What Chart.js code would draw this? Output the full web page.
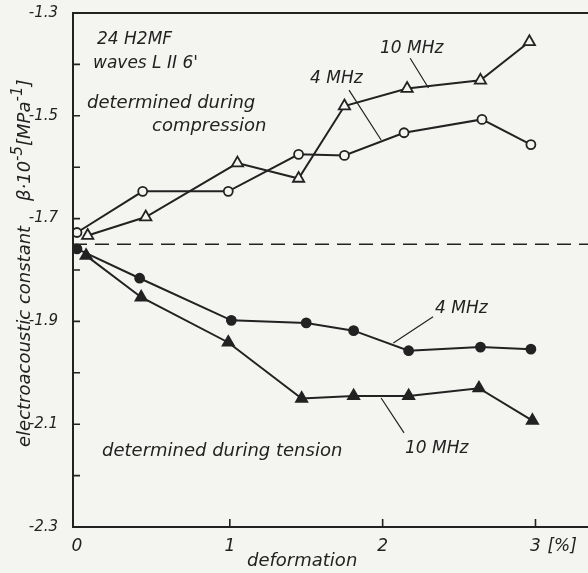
<!DOCTYPE html>
<html>
<head>
<meta charset="utf-8">
<script src="https://cdn.jsdelivr.net/npm/chart.js@4.4.1/dist/chart.umd.min.js"></script>
<style>
html, body { margin: 0; padding: 0; background: #f4f4f1; overflow: hidden; }
#wrap { position: relative; width: 604px; height: 573px; }
</style>
</head>
<body>
<div id="wrap"><canvas id="chart"></canvas></div>
<script>
// axis ticks
var xTicks = [0, 1, 2, 3];
var yTicks = [-2.3, -2.2, -2.1, -2.0, -1.9, -1.8, -1.7, -1.6, -1.5, -1.4, -1.3];
var yLabelled = [-2.3, -2.1, -1.9, -1.7, -1.5, -1.3];
var refLevel = -1.75;

// determined during compression (open markers)
var comp4x = [0, 0.43, 0.99, 1.45, 1.75, 2.14, 2.65, 2.97];
var comp4y = [-1.727, -1.647, -1.647, -1.575, -1.577, -1.533, -1.507, -1.556];
var comp10x = [0.07, 0.45, 1.05, 1.45, 1.75, 2.16, 2.64, 2.96];
var comp10y = [-1.733, -1.697, -1.592, -1.622, -1.481, -1.447, -1.431, -1.356];

// determined during tension (filled markers)
var tens4x = [0, 0.41, 1.01, 1.50, 1.81, 2.17, 2.64, 2.97];
var tens4y = [-1.759, -1.816, -1.898, -1.903, -1.918, -1.957, -1.950, -1.954];
var tens10x = [0.06, 0.42, 0.99, 1.47, 1.81, 2.17, 2.63, 2.98];
var tens10y = [-1.772, -1.853, -1.941, -2.050, -2.045, -2.045, -2.030, -2.093];

var X_MIN = -0.026, X_MAX = 3.394;
var ink = '#222';
var font = '"DejaVu Sans", sans-serif';

function pts(xs, ys) { return xs.map((x, i) => ({ x: x, y: ys[i] })); }

function series(xs, ys, shape, filled) {
    return {
        data: pts(xs, ys), borderColor: ink, borderWidth: 2,
        pointStyle: shape, pointRadius: shape === 'triangle' ? 6.5 : 4.5,
        pointBackgroundColor: filled ? ink : '#f4f4f1', pointBorderColor: ink, pointBorderWidth: 1.8,
        tension: 0, fill: false
    };
}

// no extra room for the end labels, layout padding decides
function noPad(s) { s.paddingTop = 0; s.paddingBottom = 0; s.paddingLeft = 0; s.paddingRight = 0; }

// frame, inward ticks and texts
var decor = {
    id: 'decor',
    afterDraw: function (chart) {
        var c = chart.ctx, a = chart.chartArea, xs = chart.scales.x, ys = chart.scales.y;
        c.save();
        c.strokeStyle = ink; c.lineWidth = 2;
        c.strokeRect(a.left, a.top, a.right - a.left, a.bottom - a.top);
        c.lineWidth = 1.6;
        c.beginPath();
        yTicks.forEach(v => { var p = ys.getPixelForValue(v); c.moveTo(a.left, p); c.lineTo(a.left + 7, p); });
        xTicks.slice(1).forEach(v => { var p = xs.getPixelForValue(v); c.moveTo(p, a.bottom); c.lineTo(p, a.bottom - 8); });
        c.stroke();

        // leader lines, in data units
        var leaders = [[2.18, -1.388, 2.30, -1.446], [1.78, -1.450, 1.99, -1.547],
                       [2.33, -1.891, 2.07, -1.942], [2.14, -2.117, 1.99, -2.049]];
        c.lineWidth = 1.2;
        c.beginPath();
        leaders.forEach(l => {
            c.moveTo(xs.getPixelForValue(l[0]), ys.getPixelForValue(l[1]));
            c.lineTo(xs.getPixelForValue(l[2]), ys.getPixelForValue(l[3]));
        });
        c.stroke();

        c.fillStyle = ink;
        c.textBaseline = 'alphabetic';
        c.textAlign = 'left';
        c.font = 'italic 17px ' + font;
        c.fillText('24 H2MF', 97, 44);
        c.fillText("waves L II 6'", 93, 68);
        c.fillText('10 MHz', 380, 53);
        c.fillText('4 MHz', 310, 83);
        c.fillText('4 MHz', 435, 313);
        c.fillText('10 MHz', 405, 453);
        c.fillText('[%]', xs.getPixelForValue(3) + 12, 551);
        c.font = 'italic 18px ' + font;
        c.fillText('determined during', 87, 108);
        c.fillText('compression', 152, 131);
        c.fillText('determined during tension', 102, 456);
        c.fillText('deformation', 247, 566);

        // rotated axis title with superscripts
        c.translate(30, 0);
        c.rotate(-Math.PI / 2);
        var pos = -447;
        function put(t, size, rise) {
            c.font = 'italic ' + size + 'px ' + font;
            c.fillText(t, pos, -rise);
            pos += c.measureText(t).width;
        }
        put('electroacoustic constant', 18, 0);
        pos = -201;
        put('\u03B2\u00B710', 18, 0);
        put('-5', 15, 8);
        put('[MPa', 18, 0);
        put('-1', 15, 8);
        put(']', 18, 0);
        c.restore();
    }
};

new Chart(document.getElementById('chart'), {
    type: 'line',
    data: {
        datasets: [
            { data: [{ x: X_MIN, y: refLevel }, { x: X_MAX, y: refLevel }], borderColor: ink, borderWidth: 1.6, borderDash: [14, 8], pointRadius: 0 },
            series(comp4x, comp4y, 'circle', false),
            series(comp10x, comp10y, 'triangle', false),
            series(tens4x, tens4y, 'circle', true),
            series(tens10x, tens10y, 'triangle', true)
        ]
    },
    options: {
        responsive: true, maintainAspectRatio: false, animation: false,
        layout: { padding: { top: 13, left: 0, right: 0, bottom: 0 } },
        plugins: { legend: { display: false }, tooltip: { enabled: false } },
        scales: {
            x: {
                type: 'linear', min: X_MIN, max: X_MAX,
                afterBuildTicks: s => { s.ticks = xTicks.map(v => ({ value: v })); },
                afterFit: s => { s.height = 46; noPad(s); },
                grid: { display: false, drawTicks: false }, border: { display: false },
                ticks: { padding: 9, color: ink, font: { family: font, size: 17, style: 'italic' }, maxRotation: 0 }
            },
            y: {
                type: 'linear', min: -2.3, max: -1.3,
                afterBuildTicks: s => { s.ticks = yTicks.map(v => ({ value: v })); },
                afterFit: s => { s.width = 73; noPad(s); },
                grid: { display: false, drawTicks: false }, border: { display: false },
                ticks: {
                    padding: 15, color: ink, autoSkip: false, font: { family: font, size: 15, style: 'italic' },
                    callback: v => yLabelled.some(t => Math.abs(t - v) < 1e-6) ? v.toFixed(1) : ''
                }
            }
        }
    },
    plugins: [decor]
});
</script>
</body>
</html>
